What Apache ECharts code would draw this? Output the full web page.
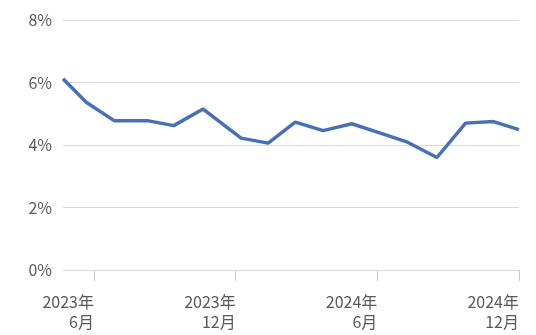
<!DOCTYPE html>
<html>
<head>
<meta charset="utf-8">
<script src="https://cdn.jsdelivr.net/npm/echarts@6/dist/echarts.min.js"></script>
<style>
html,body{margin:0;padding:0;background:#fff;}
#chart{width:536px;height:335px;}
</style>
</head>
<body>
<div id="chart"></div>
<script>
// Data (dates)
const dates = ['2023-04-22','2023-05-22','2023-06-27','2023-08-09','2023-09-12','2023-10-20','2023-12-08','2024-01-12','2024-02-16','2024-03-23','2024-04-29','2024-06-04','2024-07-10','2024-08-17','2024-09-23','2024-10-29','2024-12-01'];
const values = [6.12, 5.37, 4.78, 4.78, 4.62, 5.15, 4.22, 4.06, 4.73, 4.46, 4.68, 4.39, 4.09, 3.60, 4.70, 4.75, 4.49];
const xTickDates = ['2023-06-01','2023-12-01','2024-06-01','2024-12-01'];
const yTicks = [0, 2, 4, 6, 8];

function ts(s){ const p = s.split('-').map(Number); return Date.UTC(p[0], p[1]-1, p[2]); }

const chart = echarts.init(document.getElementById('chart'), null, {renderer:'canvas'});
const font = '"Noto Sans CJK JP", "Noto Sans", sans-serif';
chart.setOption({
  animation: false,
  grid: {left: 63, right: 17, top: 20, bottom: 65, containLabel: false},
  xAxis: {
    type: 'value',
    min: ts(dates[0]),
    max: ts(dates[dates.length-1]),
    axisLine: {show: true, onZero: false, lineStyle: {color: '#d9d9d9', width: 1}},
    axisTick: {show: true, length: 11, lineStyle: {color: '#c8c8c8'}, customValues: xTickDates.map(ts)},
    splitLine: {show: false},
    axisLabel: {
      customValues: xTickDates.map(ts),
      margin: 22,
      align: 'right',
      color: '#595959',
      fontFamily: font,
      fontSize: 16,
      lineHeight: 20,
      formatter: function(v){ const d = new Date(v); return d.getUTCFullYear() + '年\n' + (d.getUTCMonth()+1) + '月'; }
    }
  },
  yAxis: {
    type: 'value',
    min: yTicks[0],
    max: yTicks[yTicks.length-1],
    interval: 2,
    axisLine: {show: false},
    axisTick: {show: false},
    splitLine: {show: true, lineStyle: {color: '#d9d9d9', width: 1}},
    axisLabel: {margin: 11, color: '#595959', fontFamily: font, fontSize: 16, formatter: '{value}%'}
  },
  series: [{
    type: 'line',
    data: dates.map((d, i) => [ts(d), values[i]]),
    showSymbol: false,
    lineStyle: {color: '#4870B6', width: 3.5},
    itemStyle: {color: '#4870B6'}
  }]
});
</script>
</body>
</html>
